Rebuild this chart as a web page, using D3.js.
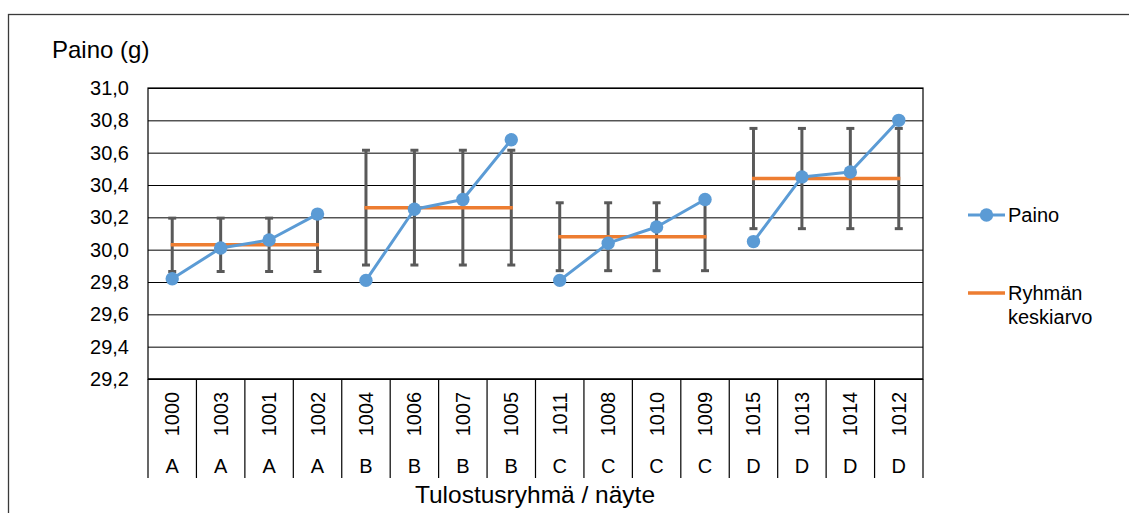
<!DOCTYPE html>
<html><head><meta charset="utf-8">
<script src="https://cdn.jsdelivr.net/npm/d3@7"></script>
<style>
html,body{margin:0;padding:0;background:#fff;}
svg{display:block;font-family:"Liberation Sans",Arial,sans-serif;}
</style></head>
<body><svg id="c" width="1129" height="513"></svg>
<script>
const samples = ["1000","1003","1001","1002","1004","1006","1007","1005","1011","1008","1010","1009","1015","1013","1014","1012"];
const sampleGroups = ["A","A","A","A","B","B","B","B","C","C","C","C","D","D","D","D"];
const paino = [29.82,30.01,30.06,30.22, 29.81,30.25,30.31,30.68, 29.81,30.04,30.14,30.31, 30.05,30.45,30.48,30.80];
const groupNames = ["A","B","C","D"];
const groupMeans = [30.03,30.26,30.08,30.44];
const groupErr = [0.165,0.355,0.21,0.31];
const yTicks = [29.2,29.4,29.6,29.8,30.0,30.2,30.4,30.6,30.8,31.0];

const svg = d3.select("#c");
const L = 148, R = 923, T = 88, B = 379;
const FS = 20;
const x = d3.scaleBand().domain(samples).range([L, R]).padding(0);
const y = d3.scaleLinear().domain([29.2, 31.0]).range([B, T]);
const cx = s => x(s) + x.bandwidth() / 2;

// outer chart border
svg.append("rect").attr("x", 8.5).attr("y", 14.5).attr("width", 1140).attr("height", 520)
  .attr("fill", "none").attr("stroke", "#3a3a3a").attr("stroke-width", 1.3);

// gridlines
const grid = svg.append("g").attr("transform", `translate(${L},0)`)
  .call(d3.axisLeft(y).tickValues(yTicks).tickSize(-(R - L)).tickFormat(""));
grid.select(".domain").remove();
grid.selectAll("line").attr("stroke", "#000").attr("stroke-width", 1);

// plot border
svg.append("rect").attr("x", L).attr("y", T).attr("width", R - L).attr("height", B - T)
  .attr("fill", "none").attr("stroke", "#000").attr("stroke-width", 1.2);

// y axis labels
const ya = svg.append("g").attr("transform", `translate(${L},0)`)
  .call(d3.axisLeft(y).tickValues(yTicks).tickSize(0).tickPadding(19)
    .tickFormat(d => d.toFixed(1).replace(".", ",")));
ya.select(".domain").remove();
ya.selectAll("text").attr("font-size", FS).attr("fill", "#000")
  .attr("font-family", "Liberation Sans, Arial, sans-serif");

// x axis: bottom line and separators
svg.append("line").attr("x1", L).attr("x2", R).attr("y1", B).attr("y2", B).attr("stroke", "#000").attr("stroke-width", 1.2);
const seps = samples.map(s => x(s)).concat([R]);
svg.append("g").selectAll("line").data(seps).join("line")
  .attr("x1", d => d).attr("x2", d => d).attr("y1", B).attr("y2", 478)
  .attr("stroke", "#000").attr("stroke-width", 1.2);

// sample labels rotated
svg.append("g").selectAll("text").data(samples).join("text")
  .attr("transform", d => `translate(${cx(d) + 7},414) rotate(-90)`)
  .attr("text-anchor", "middle").attr("font-size", FS).text(d => d);

// group labels
svg.append("g").selectAll("text").data(samples).join("text")
  .attr("x", d => cx(d)).attr("y", 473).attr("text-anchor", "middle")
  .attr("font-size", FS).text((d, i) => sampleGroups[i]);

// axis titles
svg.append("text").attr("x", 52).attr("y", 58).attr("font-size", 24).text("Paino (g)");
svg.append("text").attr("x", 535).attr("y", 503).attr("text-anchor", "middle").attr("font-size", 24.5).text("Tulostusryhmä / näyte");

// error bars
const ebData = samples.map((s, i) => {
  const gi = groupNames.indexOf(sampleGroups[i]);
  return {s, lo: groupMeans[gi] - groupErr[gi], hi: groupMeans[gi] + groupErr[gi]};
});
const eb = svg.append("g").attr("stroke", "#595959").attr("stroke-width", 3);
eb.selectAll("line.v").data(ebData).join("line").attr("class", "v")
  .attr("x1", d => cx(d.s)).attr("x2", d => cx(d.s)).attr("y1", d => y(d.hi)).attr("y2", d => y(d.lo));
eb.selectAll("line.t").data(ebData).join("line").attr("class", "t")
  .attr("x1", d => cx(d.s) - 4).attr("x2", d => cx(d.s) + 4).attr("y1", d => y(d.hi)).attr("y2", d => y(d.hi));
eb.selectAll("line.b").data(ebData).join("line").attr("class", "b")
  .attr("x1", d => cx(d.s) - 4).attr("x2", d => cx(d.s) + 4).attr("y1", d => y(d.lo)).attr("y2", d => y(d.lo));

// group mean lines
const meanData = groupNames.map((g, gi) => {
  const ss = samples.filter((s, i) => sampleGroups[i] === g);
  return {x1: cx(ss[0]), x2: cx(ss[ss.length - 1]), v: groupMeans[gi]};
});
svg.append("g").selectAll("line").data(meanData).join("line")
  .attr("x1", d => d.x1 - 1.5).attr("x2", d => d.x2 + 1.5).attr("y1", d => y(d.v)).attr("y2", d => y(d.v))
  .attr("stroke", "#ED7D31").attr("stroke-width", 3.5);

// paino line per group
const line = d3.line().x(d => cx(d.s)).y(d => y(d.v));
groupNames.forEach(g => {
  const pts = samples.map((s, i) => ({s, v: paino[i], g: sampleGroups[i]})).filter(d => d.g === g);
  svg.append("path").datum(pts).attr("d", line).attr("fill", "none")
    .attr("stroke", "#5B9BD5").attr("stroke-width", 3).attr("stroke-linejoin", "round");
});
svg.append("g").selectAll("circle").data(samples).join("circle")
  .attr("cx", d => cx(d)).attr("cy", (d, i) => y(paino[i])).attr("r", 6.7).attr("fill", "#5B9BD5");

// legend
const lg = svg.append("g");
lg.append("line").attr("x1", 968).attr("x2", 1005).attr("y1", 215).attr("y2", 215).attr("stroke", "#5B9BD5").attr("stroke-width", 3);
lg.append("circle").attr("cx", 986.5).attr("cy", 215).attr("r", 6.7).attr("fill", "#5B9BD5");
lg.append("text").attr("x", 1008).attr("y", 222).attr("font-size", FS).text("Paino");
lg.append("line").attr("x1", 968).attr("x2", 1005).attr("y1", 293).attr("y2", 293).attr("stroke", "#ED7D31").attr("stroke-width", 3.5);
lg.append("text").attr("x", 1008).attr("y", 300).attr("font-size", FS).text("Ryhmän");
lg.append("text").attr("x", 1008).attr("y", 324).attr("font-size", FS).text("keskiarvo");
</script></body></html>
